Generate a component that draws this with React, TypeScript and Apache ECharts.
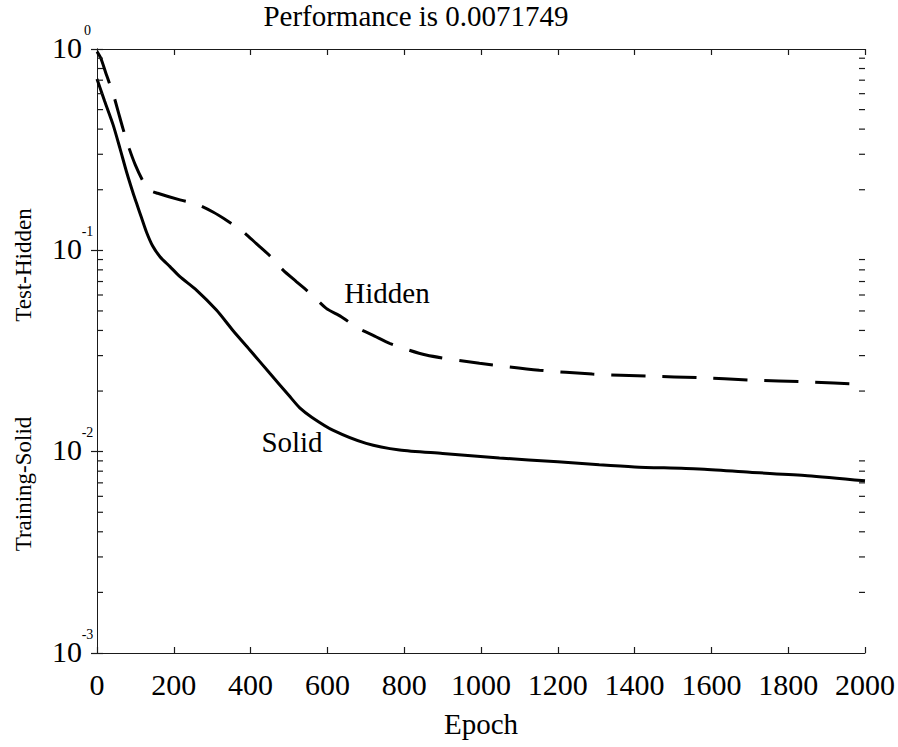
import React, { useEffect, useRef } from "react";
import * as echarts from "echarts";

// ---- data ----
const solidEpochs = [0, 20, 42, 60, 77, 95, 105, 116, 129, 145, 164, 190, 216, 259, 311, 354, 398, 450, 500, 528, 560, 614, 701, 788, 900, 1048, 1200, 1308, 1400, 1568, 1700, 1850, 2000];
const solidValues = [0.71, 0.55, 0.42, 0.32, 0.245, 0.19, 0.167, 0.145, 0.123, 0.105, 0.093, 0.083, 0.074, 0.0635, 0.0505, 0.04, 0.032, 0.0245, 0.019, 0.0165, 0.0148, 0.0128, 0.011, 0.0102, 0.0098, 0.0093, 0.0089, 0.0086, 0.0084, 0.0082, 0.0079, 0.0076, 0.00717];

const hiddenEpochs = [0, 10, 25, 42, 55, 68, 84, 100, 120, 135, 158, 216, 255, 302, 340, 380, 415, 450, 484, 519, 560, 597, 636, 680, 723, 762, 857, 996, 1152, 1290, 1438, 1568, 1700, 1850, 2000];
const hiddenValues = [0.97, 0.9, 0.74, 0.6, 0.49, 0.4, 0.32, 0.265, 0.22, 0.2, 0.192, 0.178, 0.171, 0.155, 0.14, 0.124, 0.108, 0.094, 0.08, 0.07, 0.06, 0.0515, 0.0468, 0.041, 0.0375, 0.0345, 0.0302, 0.0275, 0.0254, 0.0243, 0.0237, 0.0233, 0.0227, 0.0222, 0.0216];

const xRange = [0, 2000];
const xTickStep = 200;
const yDecades = [0.001, 0.01, 0.1, 1];
const minorMultipliers = [2, 3, 4, 5, 6, 7, 8, 9];
const minorTicks: number[] = [];
yDecades.slice(0, 3).forEach((d) => minorMultipliers.forEach((m) => minorTicks.push(+(d * m).toPrecision(3))));

const titleText = "Performance is 0.0071749";
const xName = "Epoch";
const yNameTop = "Test-Hidden";
const yNameBottom = "Training-Solid";
const solidLabel = "Solid";
const hiddenLabel = "Hidden";

const FONT = "Liberation Serif";
const AXIS = "#1a1a1a";

export default function App() {
  const ref = useRef<HTMLDivElement>(null);
  useEffect(() => {
    if (!ref.current) return;
    const chart = echarts.init(ref.current, null, { renderer: "svg" });
    const tickLen = 6;
    const yLabel = {
      show: true,
      margin: 4,
      fontFamily: FONT,
      color: "#000",
      formatter: (v: number) => `{b|10}{s|${Math.round(Math.log10(v))}}`,
      rich: {
        b: { fontFamily: FONT, fontSize: 30, lineHeight: 52, color: "#000", verticalAlign: "bottom", padding: [0, 0, 13, 0] },
        s: { fontFamily: FONT, fontSize: 14, color: "#000", verticalAlign: "top", width: 11, align: "left" },
      },
    };
    const xAxisBase = {
      type: "value",
      min: xRange[0],
      max: xRange[1],
      interval: xTickStep,
      splitLine: { show: false },
      axisLine: { show: true, lineStyle: { color: AXIS, width: 1 } },
      axisTick: { show: true, inside: true, length: tickLen, lineStyle: { color: AXIS, width: 1.2 } },
    };
    const yAxisBase = {
      type: "log",
      logBase: 10,
      min: yDecades[0],
      max: yDecades[yDecades.length - 1],
      splitLine: { show: false },
      axisLine: { show: true, lineStyle: { color: AXIS, width: 1 } },
      axisTick: { show: true, inside: true, length: tickLen, lineStyle: { color: AXIS, width: 1.2 } },
    };
    const txt = (text: string, x: number, y: number, size: number, rot = 0) => ({
      type: "text",
      x,
      y,
      rotation: rot,
      silent: true,
      style: { text, fontFamily: FONT, fontSize: size, fill: "#000", textAlign: "center", textVerticalAlign: "middle" },
    });
    chart.setOption({
      animation: false,
      backgroundColor: "#fff",
      textStyle: { fontFamily: FONT },
      grid: { left: 97, right: 32, top: 49, bottom: 94, containLabel: false },
      xAxis: [
        {
          ...xAxisBase,
          position: "bottom",
          name: xName,
          nameLocation: "middle",
          nameGap: 56,
          nameTextStyle: { fontFamily: FONT, fontSize: 29, color: "#000" },
          axisLabel: { show: true, margin: 16, fontFamily: FONT, fontSize: 30, color: "#000", formatter: (v: number) => String(v) },
        },
        { ...xAxisBase, position: "top", axisLabel: { show: false } },
      ],
      yAxis: [
        { ...yAxisBase, position: "left", axisLabel: yLabel },
        { ...yAxisBase, position: "right", axisLabel: { show: false } },
      ],
      series: [
        {
          type: "line",
          name: "Training",
          data: solidEpochs.map((e, i) => [e, solidValues[i]]),
          showSymbol: false,
          smooth: 0.25,
          lineStyle: { color: "#000", width: 3 },
          silent: true,
        },
        {
          type: "line",
          name: "Test",
          data: hiddenEpochs.map((e, i) => [e, hiddenValues[i]]),
          showSymbol: false,
          smooth: 0.25,
          lineStyle: { color: "#000", width: 3, type: [34, 17], cap: "butt" },
          silent: true,
        },
        {
          type: "custom",
          name: "minorTicks",
          silent: true,
          clip: false,
          z: 10,
          data: minorTicks.map((v) => [xRange[0], v]),
          encode: { x: 0, y: 1 },
          renderItem: (params: any, api: any) => {
            const v = api.value(1);
            const a = api.coord([xRange[0], v]);
            const b = api.coord([xRange[1], v]);
            const st = { stroke: AXIS, lineWidth: 1.2, fill: null };
            return {
              type: "group",
              children: [
                { type: "line", shape: { x1: a[0], y1: a[1], x2: a[0] + tickLen, y2: a[1] }, style: st },
                { type: "line", shape: { x1: b[0] - tickLen, y1: b[1], x2: b[0], y2: b[1] }, style: st },
              ],
            };
          },
        },
      ],
      graphic: [
        txt(titleText, 416, 16, 29),
        txt(yNameTop, 23, 265, 23, Math.PI / 2),
        txt(yNameBottom, 23, 484, 23, Math.PI / 2),
        txt(hiddenLabel, 387, 293, 29),
        txt(solidLabel, 292, 442, 29),
      ],
    });
    return () => chart.dispose();
  }, []);
  return <div ref={ref} style={{ position: "fixed", left: 0, top: 0, width: 898, height: 747 }} />;
}
